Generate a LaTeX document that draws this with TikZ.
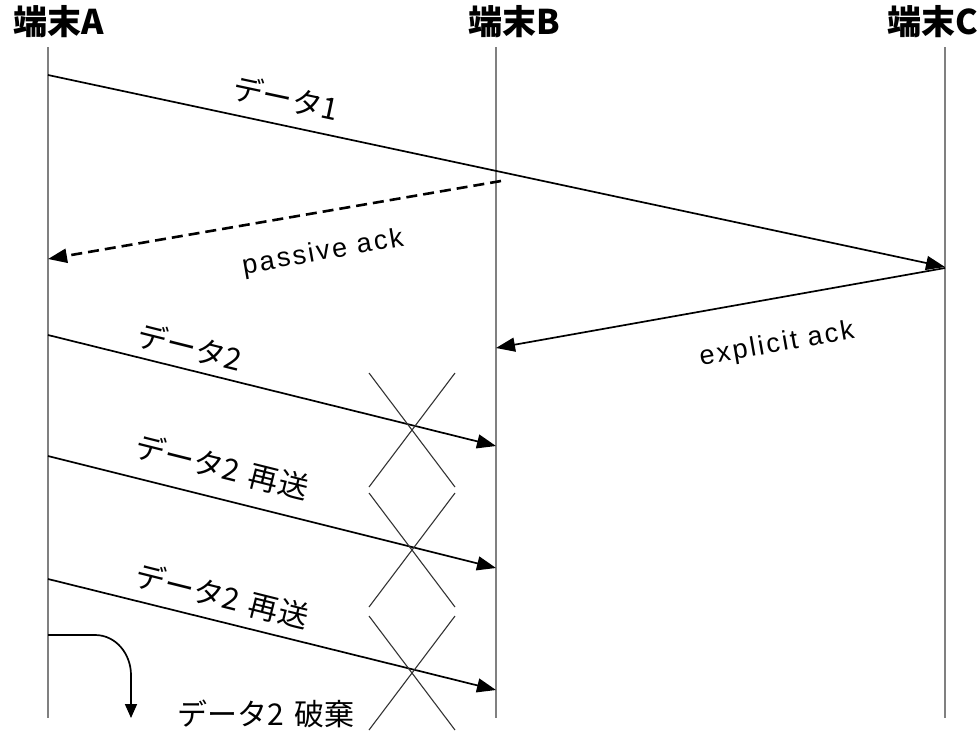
\documentclass[tikz,border=0pt]{standalone}
\usepackage{fontspec}
\setmainfont{Noto Sans CJK JP}
\newfontfamily\latinfont[LetterSpace=9]{Liberation Sans}
\usetikzlibrary{arrows.meta}
\newcommand{\gapsp}{\hspace{0.35em}}
\begin{document}
\begin{tikzpicture}[x=1pt,y=-1pt,
  lifeline/.style={draw=black!50, line width=2.8pt},
  head/.style={font=\fontsize{34}{36}\selectfont\bfseries, inner sep=0pt},
  msg/.style={line width=1.7pt, -{Triangle[length=19pt,width=14pt]}},
  lbl/.style={font=\fontsize{30}{32}\selectfont, inner sep=0pt},
  elbl/.style={font=\latinfont\fontsize{27}{29}\selectfont, inner sep=0pt},
  xmark/.style={draw=black!80, line width=1.1pt}]
\useasboundingbox (0,0) rectangle (977,732);
% heads
\node[head] (hA) at (59,22) {端末A};
\node[head] (hB) at (514,22) {端末B};
\node[head] (hC) at (933,22) {端末C};
% lifelines
\coordinate (At) at (48,47); \coordinate (Ab) at (48,718);
\coordinate (Bt) at (496,47); \coordinate (Bb) at (496,718);
\coordinate (Ct) at (945,47); \coordinate (Cb) at (945,718);
\draw[lifeline] (At) -- (Ab);
\draw[lifeline] (Bt) -- (Bb);
\draw[lifeline] (Ct) -- (Cb);
% endpoints
\coordinate (a1) at (48,75);  \coordinate (c1) at (945,267);
\coordinate (b2) at (501,181); \coordinate (a2) at (48,259);
\coordinate (c3) at (945,268); \coordinate (b3) at (496,348);
\coordinate (a4) at (48,335);  \coordinate (b4) at (496,446);
\coordinate (a5) at (48,456);  \coordinate (b5) at (496,568);
\coordinate (a6) at (48,579);  \coordinate (b6) at (496,690);
\coordinate (a7) at (48,635);  \coordinate (k1) at (95,635);
\coordinate (k2) at (131,675); \coordinate (k3) at (131,718);
% messages
\draw[msg] (a1) -- (c1);
\draw[msg, line width=2.6pt, dash pattern=on 11pt off 6pt] (b2) -- (a2);
\draw[msg] (c3) -- (b3);
\draw[msg] (a4) -- (b4);
\draw[msg] (a5) -- (b5);
\draw[msg] (a6) -- (b6);
\draw[line width=1.7pt, -{Triangle[length=14pt,width=12pt]}] (a7) -- (k1) to[out=0,in=90] (k2) -- (k3);
% labels
\node[lbl, rotate=-12] (l1) at (286,98) {データ1};
\node[elbl, rotate=10] (l2) at (323,253) {passive ack};
\node[elbl, rotate=10] (l3) at (777,345) {explicit ack};
\node[lbl, rotate=-14] (l4) at (190,347) {データ2};
\node[lbl, rotate=-14] (l5) at (222,467) {データ2\gapsp 再送};
\node[lbl, rotate=-14] (l6) at (222,596) {データ2\gapsp 再送};
\node[lbl] (l7) at (266,714) {データ2\gapsp 破棄};
% X marks
\foreach \cy in {430,550,673}{
  \draw[xmark] (369,\cy-57) -- (455,\cy+57);
  \draw[xmark] (455,\cy-57) -- (369,\cy+57);
}
\end{tikzpicture}
\end{document}
